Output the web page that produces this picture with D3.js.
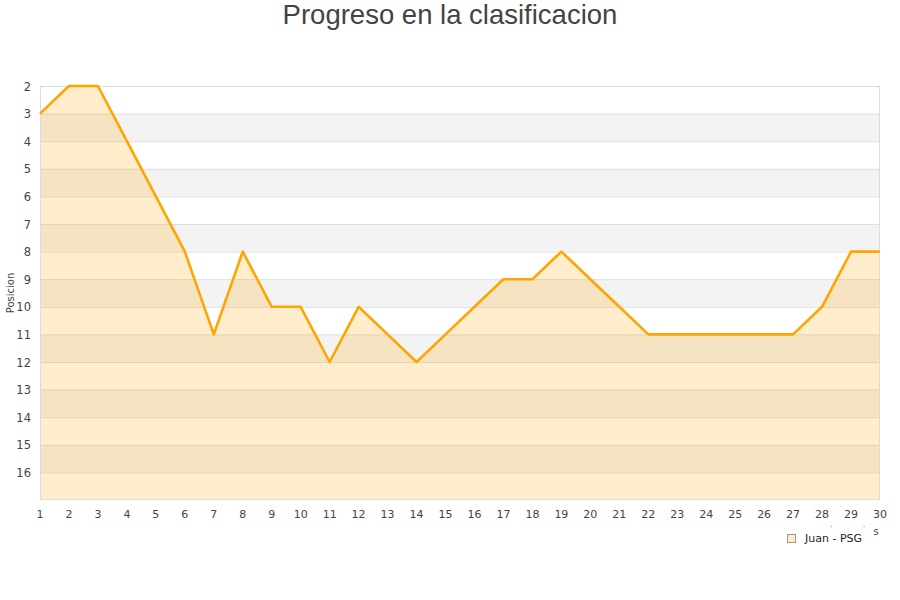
<!DOCTYPE html>
<html><head><meta charset="utf-8">
<script src="https://cdn.jsdelivr.net/npm/d3@7"></script>
<style>body{margin:0;background:#fff}svg{display:block}</style>
</head><body>
<svg id="c" width="900" height="600"></svg>
<script>
const jornadas = [1,2,3,4,5,6,7,8,9,10,11,12,13,14,15,16,17,18,19,20,21,22,23,24,25,26,27,28,29,30];
const posiciones = [3,2,2,4,6,8,11,8,10,10,12,10,11,12,11,10,9,9,8,9,10,11,11,11,11,11,11,10,8,8];
const yTicks = [2,3,4,5,6,7,8,9,10,11,12,13,14,15,16];
const seriesName = "Juan - PSG";
const title = "Progreso en la clasificacion";
const yTitle = "Posicion";

const svg = d3.select("#c");
const L=40,R=880,T=86,B=500;
const x = d3.scaleLinear().domain([1,30]).range([L,R]);
const y = d3.scaleLinear().domain([2,17]).range([T,B]);

const bandStarts = d3.range(2,17);
svg.append("g").selectAll("rect").data(bandStarts).join("rect")
  .attr("x",L).attr("width",R-L)
  .attr("y",d=>y(d)).attr("height",d=>y(d+1)-y(d))
  .attr("fill",(d,i)=>i%2===0?"#ffffff":"#f3f3f3");
svg.append("g").selectAll("line").data(yTicks.slice(1)).join("line")
  .attr("x1",L).attr("x2",R).attr("y1",d=>y(d)+0.5).attr("y2",d=>y(d)+0.5)
  .attr("stroke","#dedede").attr("stroke-width",1);

const data = jornadas.map((j,i)=>({x:j,y:posiciones[i]}));
svg.append("path").datum(data)
  .attr("d",d3.area().x(d=>x(d.x)).y0(y(17)).y1(d=>y(d.y)))
  .attr("fill","rgba(255,165,0,0.2)");
svg.append("rect").attr("x",L+0.5).attr("y",T+0.5).attr("width",R-L-1).attr("height",B-T-1)
  .attr("fill","none").attr("stroke","#dcdcdc");
svg.append("path").datum(data)
  .attr("d",d3.line().x(d=>x(d.x)).y(d=>y(d.y)))
  .attr("fill","none").attr("stroke","#ffa500").attr("stroke-width",2.6).attr("stroke-linejoin","round");

svg.append("g").selectAll("text").data(yTicks).join("text")
  .attr("x",31).attr("y",d=>y(d)+4.5).attr("text-anchor","end")
  .attr("font-family","DejaVu Sans").attr("font-size",11.5).attr("fill","#444").text(d=>d);
svg.append("g").selectAll("text").data(jornadas).join("text")
  .attr("x",d=>x(d)).attr("y",518).attr("text-anchor","middle")
  .attr("font-family","DejaVu Sans").attr("font-size",11).attr("fill","#444").text(d=>d);

svg.append("text").attr("x",450).attr("y",24).attr("text-anchor","middle")
  .attr("font-family","Liberation Sans, Arial").attr("font-size",27.5).attr("fill","#444").text(title);
svg.append("text").attr("transform","translate(14,293) rotate(-90)").attr("text-anchor","middle")
  .attr("font-family","DejaVu Sans").attr("font-size",10).attr("fill","#444").text(yTitle);

svg.append("text").attr("x",876).attr("y",535).attr("text-anchor","middle")
  .attr("font-family","DejaVu Sans").attr("font-size",10).attr("fill","#444").text("s");
svg.append("text").attr("x",831).attr("y",530).attr("text-anchor","middle")
  .attr("font-family","DejaVu Sans").attr("font-size",6).attr("fill","#444").text("'");
svg.append("text").attr("x",864).attr("y",530).attr("text-anchor","middle")
  .attr("font-family","DejaVu Sans").attr("font-size",6).attr("fill","#444").text("'");

svg.append("rect").attr("x",787.5).attr("y",534.5).attr("width",8).attr("height",8)
  .attr("fill","#ffecc9").attr("stroke","#999");
svg.append("text").attr("x",805).attr("y",542).attr("font-family","DejaVu Sans")
  .attr("font-size",11).attr("fill","#222").text(seriesName);
</script>
</body></html>
